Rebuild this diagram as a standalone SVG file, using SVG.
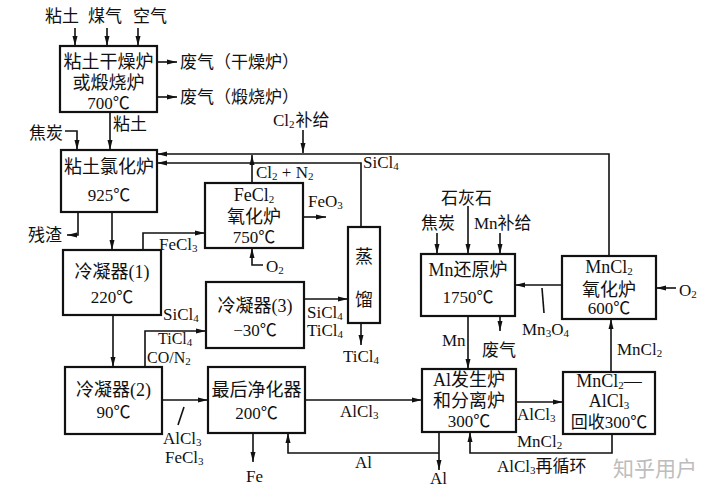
<svg xmlns="http://www.w3.org/2000/svg" width="720" height="495" viewBox="0 0 720 495">
<style>
text{font-family:"Liberation Serif","Noto Sans CJK SC",serif;fill:#111;}
.b{font-size:18px;text-anchor:middle;}
.l{font-size:17px;}
.s{font-size:11px;baseline-shift:-18%;}
rect{fill:#fff;stroke:#111;stroke-width:2.2;}
#connectors path{fill:none;stroke:#111;stroke-width:1.6;}
.ar{marker-end:url(#a);}
</style>
<defs>
<marker id="a" viewBox="0 0 10 6" refX="10" refY="3" markerWidth="10" markerHeight="6" markerUnits="userSpaceOnUse" orient="auto"><path d="M0,0.5 L10,3 L0,5.5 z" fill="#111"/></marker>
</defs>
<rect x="0" y="0" width="720" height="495" style="fill:#fff;stroke:none"/>
<g id="connectors">
<path class="ar" d="M75,28 V46"/>
<path class="ar" d="M107,28 V46"/>
<path class="ar" d="M138,28 V46"/>
<path class="ar" d="M158,62 H177"/>
<path class="ar" d="M158,97 H177"/>
<path class="ar" d="M110,112 V150"/>
<path class="ar" d="M65,131 H77 V150"/>
<path class="ar" d="M78,212 V235 H67"/>
<path class="ar" d="M112,212 V250"/>
<path class="ar" d="M609,256 V154 H157"/>
<path class="ar" d="M303,130 V153"/>
<path class="ar" d="M361,227 V163 H157"/>
<path class="ar" d="M252,183 V155"/>
<path class="ar" d="M303,217 H326"/>
<path class="ar" d="M263,265 H252 V248"/>
<path class="ar" d="M143,250 V233 H205"/>
<path class="ar" d="M113,315 V367"/>
<path class="ar" d="M145,367 V331 H206"/>
<path class="ar" d="M304,299 H348"/>
<path class="ar" d="M361,323 V345"/>
<path class="ar" d="M162,400 H208"/>
<path d="M184,407 L178,425"/>
<path class="ar" d="M253,433 V462"/>
<path class="ar" d="M439,453 H288 V433"/>
<path class="ar" d="M305,400 H422"/>
<path class="ar" d="M437,233 V254"/>
<path class="ar" d="M468,206 V254"/>
<path class="ar" d="M500,233 V254"/>
<path class="ar" d="M468,316 V369"/>
<path class="ar" d="M500,316 V331"/>
<path class="ar" d="M562,285 H515"/>
<path d="M542,288 L544,313"/>
<path class="ar" d="M676,288 H656"/>
<path class="ar" d="M611,372 V319"/>
<path class="ar" d="M439,432 V470"/>
<path class="ar" d="M516,402 H563"/>
<path class="ar" d="M612,434 V453 H470 V432"/>
</g>
<g id="n-dryer">
<rect x="60" y="46" width="97" height="66"/>
<text class="b" x="108.5" y="68">粘土干燥炉</text>
<text class="b" x="108.5" y="89">或煅烧炉</text>
<text class="b" x="108.5" y="109" style="font-size:17px">700℃</text>
</g>
<g id="n-chlor">
<rect x="61" y="150" width="96" height="62"/>
<text class="b" x="109" y="173">粘土氯化炉</text>
<text class="b" x="109" y="201" style="font-size:17px">925℃</text>
</g>
<g id="n-feox">
<rect x="205" y="183" width="98" height="65"/>
<text class="b" x="254" y="201">FeCl<tspan class="s">2</tspan></text>
<text class="b" x="254" y="223">氧化炉</text>
<text class="b" x="254" y="243" style="font-size:17px">750℃</text>
</g>
<g id="n-cond1">
<rect x="63" y="250" width="98" height="65"/>
<text class="b" x="112" y="278">冷凝器(1)</text>
<text class="b" x="112" y="303" style="font-size:17px">220℃</text>
</g>
<g id="n-cond3">
<rect x="206" y="282" width="98" height="66"/>
<text class="b" x="255" y="312">冷凝器(3)</text>
<text class="b" x="255" y="336" style="font-size:17px">−30℃</text>
</g>
<g id="n-distill">
<rect x="348" y="227" width="32" height="96"/>
<text class="b" x="364" y="263">蒸</text>
<text class="b" x="364" y="306">馏</text>
</g>
<g id="n-cond2">
<rect x="65" y="367" width="97" height="67"/>
<text class="b" x="113.5" y="396">冷凝器(2)</text>
<text class="b" x="113.5" y="418" style="font-size:17px">90℃</text>
</g>
<g id="n-purifier">
<rect x="208" y="367" width="97" height="66"/>
<text class="b" x="256.5" y="396">最后净化器</text>
<text class="b" x="256.5" y="419" style="font-size:17px">200℃</text>
</g>
<g id="n-mnred">
<rect x="421" y="254" width="94" height="62"/>
<text class="b" x="468" y="276">Mn还原炉</text>
<text class="b" x="468" y="303" style="font-size:17px">1750℃</text>
</g>
<g id="n-mnox">
<rect x="562" y="256" width="94" height="63"/>
<text class="b" x="609" y="273">MnCl<tspan class="s">2</tspan></text>
<text class="b" x="609" y="296">氧化炉</text>
<text class="b" x="609" y="314" style="font-size:17px">600℃</text>
</g>
<g id="n-algen">
<rect x="422" y="369" width="94" height="63"/>
<text class="b" x="469" y="386">Al发生炉</text>
<text class="b" x="469" y="407">和分离炉</text>
<text class="b" x="469" y="427" style="font-size:17px">300℃</text>
</g>
<g id="n-recov">
<rect x="563" y="372" width="92" height="62"/>
<text class="b" x="609" y="387">MnCl<tspan class="s">2</tspan>—</text>
<text class="b" x="609" y="407">AlCl<tspan class="s">3</tspan></text>
<text class="b" x="609" y="428" style="font-size:17px">回收300℃</text>
</g>
<g id="labels">
<text class="l" x="45" y="22">粘土</text>
<text class="l" x="88" y="22">煤气</text>
<text class="l" x="133" y="22">空气</text>
<text class="l" x="180" y="68">废气（干燥炉）</text>
<text class="l" x="180" y="103">废气（煅烧炉）</text>
<text class="l" x="113" y="130">粘土</text>
<text class="l" x="29" y="139">焦炭</text>
<text class="l" x="28" y="241">残渣</text>
<text class="l" x="273" y="126">Cl<tspan class="s">2</tspan><tspan dx="1">补给</tspan></text>
<text class="l" x="363" y="168">SiCl<tspan class="s">4</tspan></text>
<text class="l" x="256" y="178">Cl<tspan class="s">2</tspan><tspan> + N</tspan><tspan class="s">2</tspan></text>
<text class="l" x="308" y="207">FeO<tspan class="s">3</tspan></text>
<text class="l" x="266" y="272">O<tspan class="s">2</tspan></text>
<text class="l" x="159" y="250">FeCl<tspan class="s">3</tspan></text>
<text class="l" x="163" y="320">SiCl<tspan class="s">4</tspan></text>
<text class="l" x="158" y="344" style="font-size:16px">TiCl<tspan class="s">4</tspan></text>
<text class="l" x="147" y="363" style="font-size:16px">CO/N<tspan class="s">2</tspan></text>
<text class="l" x="307" y="318">SiCl<tspan class="s">4</tspan></text>
<text class="l" x="307" y="336">TiCl<tspan class="s">4</tspan></text>
<text class="l" x="343" y="362">TiCl<tspan class="s">4</tspan></text>
<text class="l" x="163" y="444">AlCl<tspan class="s">3</tspan></text>
<text class="l" x="165" y="463">FeCl<tspan class="s">3</tspan></text>
<text class="l" x="246" y="482">Fe</text>
<text class="l" x="340" y="417">AlCl<tspan class="s">3</tspan></text>
<text class="l" x="355" y="468">Al</text>
<text class="l" x="441" y="204">石灰石</text>
<text class="l" x="421" y="229">焦炭</text>
<text class="l" x="474" y="229">Mn补给</text>
<text class="l" x="442" y="346">Mn</text>
<text class="l" x="482" y="356">废气</text>
<text class="l" x="522" y="335">Mn<tspan class="s">3</tspan><tspan>O</tspan><tspan class="s">4</tspan></text>
<text class="l" x="679" y="296">O<tspan class="s">2</tspan></text>
<text class="l" x="617" y="355">MnCl<tspan class="s">2</tspan></text>
<text class="l" x="430" y="484">Al</text>
<text class="l" x="517" y="420">AlCl<tspan class="s">3</tspan></text>
<text class="l" x="517" y="447">MnCl<tspan class="s">2</tspan></text>
<text class="l" x="497" y="472">AlCl<tspan class="s">3</tspan><tspan>再循环</tspan></text>
<text x="613" y="476" style="font-size:21px;fill:#bdbdbd;font-family:'Noto Sans CJK SC',sans-serif">知乎用户</text>
</g>
</svg>
